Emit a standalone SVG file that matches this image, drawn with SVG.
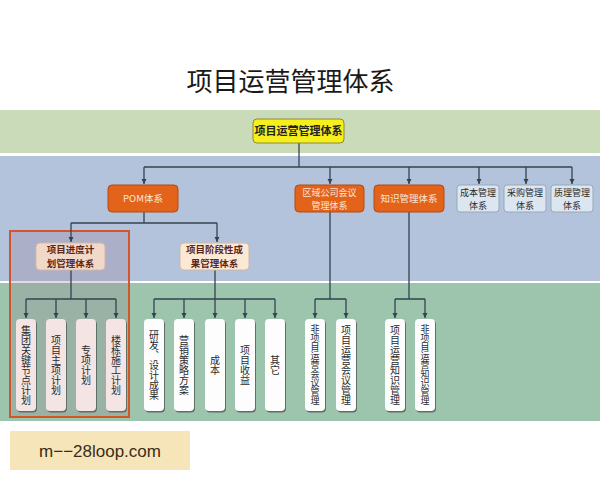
<svg xmlns="http://www.w3.org/2000/svg" width="600" height="480" viewBox="0 0 600 480">
<defs>
<marker id="arr" markerWidth="6" markerHeight="6" refX="5" refY="3" orient="auto" markerUnits="userSpaceOnUse">
<path d="M0,0.5 L5,3 L0,5.5 Z" fill="#34434f"/>
</marker>
</defs>
<style>
text{font-family:"Noto Sans CJK SC","Liberation Sans",sans-serif;text-anchor:middle;}
.title{font-size:26px;fill:#1a1a1a;}
.conn path{fill:none;stroke:#34434f;stroke-width:1.3;}
.conn .a{marker-end:url(#arr);}
.orange rect{fill:#e4631b;stroke:#b04a14;stroke-width:1;}
.orange text{fill:#fbe6d6;font-size:9.5px;}
.orange text.two{font-size:9px;}
.light rect{fill:#dce6f1;stroke:#97a7b9;stroke-width:1;}
.light text{fill:#2a2a2a;font-size:9px;}
.sub rect{stroke:#d2b8a6;stroke-width:1;}
.sub text{fill:#5a2618;font-size:9.5px;font-weight:bold;}
.shadow{fill:#5e6f66;}
.leafp{fill:#f4e4e4;}
.leafw{fill:#fdfdfd;}
.vt{font-size:10px;fill:#2b2b2b;writing-mode:vertical-rl;text-anchor:middle;}
.vt9{font-size:9px;}
.wm{font-family:"Liberation Sans",Arial,sans-serif;font-size:17px;fill:#3b2b1b;}
</style>
<rect width="600" height="480" fill="#ffffff"/>
<text class="title" x="290.5" y="91">项目运营管理体系</text>
<rect x="0" y="110" width="600" height="43" fill="#c9dbb9"/>
<rect x="0" y="156" width="600" height="125" fill="#b4c3dc"/>
<rect x="0" y="283" width="600" height="138" fill="#9dc5ae"/>
<rect id="highlight" x="10" y="231" width="119" height="186" fill="#957f95" fill-opacity="0.28" stroke="#d4552b" stroke-width="2"/>
<g class="conn" id="connectors">
<path d="M299,143 V167"/>
<path d="M144,167 H572"/>
<path class="a" d="M144,167 V184"/>
<path class="a" d="M330,167 V184"/>
<path class="a" d="M409,167 V184"/>
<path class="a" d="M479,167 V184"/>
<path class="a" d="M526,167 V184"/>
<path class="a" d="M572,167 V184"/>
<path d="M144,212 V223 M71,223 H217"/>
<path class="a" d="M71,223 V242"/>
<path class="a" d="M217,223 V242"/>
<path d="M71,270 V299 M26,299 H116"/>
<path class="a" d="M26,299 V318"/>
<path class="a" d="M56,299 V318"/>
<path class="a" d="M86,299 V318"/>
<path class="a" d="M116,299 V318"/>
<path d="M215,270 V299 M154,299 H275"/>
<path class="a" d="M154,299 V318"/>
<path class="a" d="M184,299 V318"/>
<path class="a" d="M215,299 V318"/>
<path class="a" d="M245,299 V318"/>
<path class="a" d="M275,299 V318"/>
<path d="M330,212 V299 M315,299 H346"/>
<path class="a" d="M315,299 V318"/>
<path class="a" d="M346,299 V318"/>
<path d="M409,212 V299 M395,299 H425"/>
<path class="a" d="M395,299 V318"/>
<path class="a" d="M425,299 V318"/>
</g>
<g id="root">
<rect x="253" y="119" width="91" height="24" rx="4" fill="#f7ef1c" stroke="#8c8a3a" stroke-width="1"/>
<text x="298.5" y="135" font-size="11" font-weight="bold" fill="#222">项目运营管理体系</text>
</g>
<g id="pom" class="orange">
<rect x="108" y="185" width="70" height="27" rx="4"/>
<text x="143" y="202">POM体系</text>
</g>
<g id="regional" class="orange">
<rect x="295" y="185" width="69" height="27" rx="4"/>
<text class="two" x="329.5" y="195.8"><tspan x="329.5">区域公司会议</tspan><tspan x="329.5" dy="13.2">管理体系</tspan></text>
</g>
<g id="knowledge" class="orange">
<rect x="374" y="185" width="70" height="27" rx="4"/>
<text x="409" y="202">知识管理体系</text>
</g>
<g id="cost" class="light">
<rect x="457" y="185" width="42" height="27" rx="3"/>
<text x="478" y="195.8"><tspan x="478">成本管理</tspan><tspan x="478" dy="13.2">体系</tspan></text>
</g>
<g id="purchase" class="light">
<rect x="504" y="185" width="42" height="27" rx="3"/>
<text x="525" y="195.8"><tspan x="525">采购管理</tspan><tspan x="525" dy="13.2">体系</tspan></text>
</g>
<g id="quality" class="light">
<rect x="551" y="185" width="42" height="27" rx="3"/>
<text x="572" y="195.8"><tspan x="572">质理管理</tspan><tspan x="572" dy="13.2">体系</tspan></text>
</g>
<g id="schedule" class="sub">
<rect x="36" y="243" width="69" height="27" rx="4" fill="#f2d8c8"/>
<text x="70.5" y="253.2"><tspan x="70.5">项目进度计</tspan><tspan x="70.5" dy="13.9">划管理体系</tspan></text>
</g>
<g id="stage" class="sub">
<rect x="180" y="243" width="69" height="27" rx="4" fill="#fbe8d5"/>
<text x="214.5" y="253.2"><tspan x="214.5">项目阶段性成</tspan><tspan x="214.5" dy="13.9">果管理体系</tspan></text>
</g>
<g id="leaf1"><rect class="shadow" x="17" y="320.5" width="20" height="92" rx="4"/><rect class="leafp" x="16" y="319" width="20" height="92" rx="4"/><text class="vt" x="26" y="365">集团关键节点计划</text></g>
<g id="leaf2"><rect class="shadow" x="47" y="320.5" width="20" height="92" rx="4"/><rect class="leafp" x="46" y="319" width="20" height="92" rx="4"/><text class="vt" x="56" y="365">项目主项计划</text></g>
<g id="leaf3"><rect class="shadow" x="77" y="320.5" width="20" height="92" rx="4"/><rect class="leafp" x="76" y="319" width="20" height="92" rx="4"/><text class="vt" x="86" y="365">专项计划</text></g>
<g id="leaf4"><rect class="shadow" x="107" y="320.5" width="20" height="92" rx="4"/><rect class="leafp" x="106" y="319" width="20" height="92" rx="4"/><text class="vt" x="116" y="365">楼栋施工计划</text></g>
<g id="leaf5"><rect class="shadow" x="145" y="320.5" width="20" height="92" rx="4"/><rect class="leafw" x="144" y="319" width="20" height="92" rx="4"/><text class="vt" x="154" y="365">研发、设计成果</text></g>
<g id="leaf6"><rect class="shadow" x="175" y="320.5" width="20" height="92" rx="4"/><rect class="leafw" x="174" y="319" width="20" height="92" rx="4"/><text class="vt" x="184" y="365">营销策略方案</text></g>
<g id="leaf7"><rect class="shadow" x="206" y="320.5" width="20" height="92" rx="4"/><rect class="leafw" x="205" y="319" width="20" height="92" rx="4"/><text class="vt" x="215" y="365">成本</text></g>
<g id="leaf8"><rect class="shadow" x="236" y="320.5" width="20" height="92" rx="4"/><rect class="leafw" x="235" y="319" width="20" height="92" rx="4"/><text class="vt" x="245" y="365">项目收益</text></g>
<g id="leaf9"><rect class="shadow" x="266" y="320.5" width="20" height="92" rx="4"/><rect class="leafw" x="265" y="319" width="20" height="92" rx="4"/><text class="vt" x="275" y="365">其它</text></g>
<g id="leaf10"><rect class="shadow" x="306" y="320.5" width="20" height="92" rx="4"/><rect class="leafw" x="305" y="319" width="20" height="92" rx="4"/><text class="vt vt9" x="315" y="365">非项目运营会议管理</text></g>
<g id="leaf11"><rect class="shadow" x="337" y="320.5" width="20" height="92" rx="4"/><rect class="leafw" x="336" y="319" width="20" height="92" rx="4"/><text class="vt" x="346" y="365">项目运营会议管理</text></g>
<g id="leaf12"><rect class="shadow" x="386" y="320.5" width="20" height="92" rx="4"/><rect class="leafw" x="385" y="319" width="20" height="92" rx="4"/><text class="vt" x="395" y="365">项目运营知识管理</text></g>
<g id="leaf13"><rect class="shadow" x="416" y="320.5" width="20" height="92" rx="4"/><rect class="leafw" x="415" y="319" width="20" height="92" rx="4"/><text class="vt vt9" x="425" y="365">非项目运营知识管理</text></g>
<g id="watermark">
<rect x="10" y="431" width="180" height="39" fill="#f5e5b8"/>
<text class="wm" x="100" y="457">m−−28loop.com</text>
</g>
</svg>
